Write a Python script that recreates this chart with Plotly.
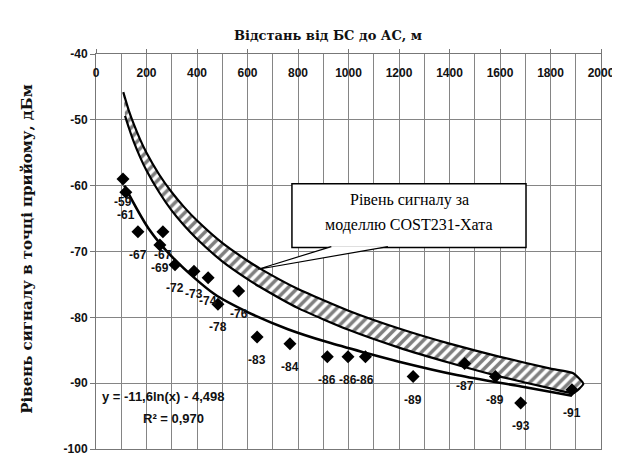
import plotly.graph_objects as go

# Measured points (distance m, level dBm)
dist = [107, 118, 166, 253, 265, 313, 388, 444, 483, 565, 638, 768, 916, 998, 1067, 1256, 1460, 1582, 1682, 1885]
level = [-59, -61, -67, -69, -67, -72, -73, -74, -78, -76, -83, -84, -86, -86, -86, -89, -87, -89, -93, -91]

# Logarithmic trend line
trend_x = [112, 208, 311, 470, 600, 760, 919, 1068, 1196, 1434, 1684, 1885]
trend_y = [-60.0, -66.5, -71.2, -76.5, -79.2, -81.8, -83.8, -85.4, -86.7, -88.8, -90.5, -91.9]

# COST231-Hata band edges
band_x = [115, 130, 150, 175, 200, 250, 300, 350, 400, 500, 600, 650, 800, 1000, 1200, 1400, 1600, 1800, 1890]
band_upper = [-46.7, -48.6, -50.7, -53.0, -55.0, -58.3, -61.0, -63.3, -65.3, -68.7, -71.4, -72.6, -75.7, -79.0, -81.7, -84.0, -86.0, -87.8, -88.5]
band_lower = [-49.4, -51.2, -53.4, -55.7, -57.7, -61.0, -63.8, -66.1, -68.1, -71.5, -74.2, -75.4, -78.6, -81.9, -84.6, -86.9, -89.0, -90.8, -91.5]
band_cap_left = (108, -45.8)
band_cap_right = (1930, -90.1)

x_ticks = list(range(0, 2001, 200))
y_ticks = list(range(-100, -39, 10))

title_text = "Відстань від БС до АС, м"
ytitle_text = "Рівень сигналу в точці прийому, дБм"
callout_lines = ["Рівень сигналу за", "моделлю COST231-Хата"]
eq_text = "y = -11,6ln(x) - 4,498"
r2_text = "R² = 0,970"

fig = go.Figure()

poly_x = [band_cap_left[0]] + band_x + [band_cap_right[0]] + band_x[::-1]
poly_y = [band_cap_left[1]] + band_upper + [band_cap_right[1]] + band_lower[::-1]
fig.add_trace(go.Scatter(
    x=poly_x, y=poly_y, mode="lines", fill="toself",
    line=dict(color="black", width=2.2, shape="spline", smoothing=0.5),
    fillpattern=dict(shape="/", fgcolor="black", bgcolor="white", size=7, solidity=0.5),
    fillcolor="white", hoverinfo="skip", showlegend=False,
))

fig.add_trace(go.Scatter(
    x=trend_x, y=trend_y, mode="lines",
    line=dict(color="black", width=2.6, shape="spline", smoothing=0.8),
    showlegend=False,
))

fig.add_trace(go.Scatter(
    x=dist, y=level, mode="markers",
    marker=dict(symbol="diamond", size=10, color="black"),
    showlegend=False,
))

lab_font = dict(family="Liberation Sans", size=12, color="#111", weight="bold")
for xv, yv in zip(dist, level):
    fig.add_annotation(x=xv, y=yv, text=str(yv), showarrow=False,
                       yshift=-23, font=lab_font)

# callout box
fig.add_shape(type="rect", xref="x", yref="y", x0=776, x1=1703, y0=-69.4, y1=-59.7,
              line=dict(color="black", width=1.5), fillcolor="white", layer="above")
fig.add_shape(type="path", xref="x", yref="y",
              path="M 932,-69.25 L 642,-72.7 L 1156,-69.25",
              line=dict(color="black", width=1.2), fillcolor="white", layer="above")
for txt, yy in zip(callout_lines, [-62.2, -66.0]):
    fig.add_annotation(x=1240, y=yy, text=txt, showarrow=False,
                       font=dict(family="Liberation Serif", size=16, color="black"))

fig.add_annotation(x=16, y=-92.1, text=eq_text, showarrow=False, xanchor="left",
                   font=dict(family="Liberation Sans", size=13, color="#111", weight="bold"))
fig.add_annotation(x=305, y=-95.4, text=r2_text, showarrow=False,
                   font=dict(family="Liberation Sans", size=13, color="#111", weight="bold"))

fig.add_annotation(xref="paper", yref="paper", x=0.459, y=1.072, text=title_text,
                   showarrow=False,
                   font=dict(family="DejaVu Serif", size=13, color="#111", weight="bold"))
fig.add_annotation(xref="paper", yref="paper", x=-0.16, y=0.505, text=ytitle_text,
                   showarrow=False, textangle=-90,
                   font=dict(family="DejaVu Serif", size=15, color="#111", weight="bold"))

grid_c = "#858585"
tick_font = dict(family="Liberation Sans", size=12, color="#111", weight="bold")
fig.update_xaxes(
    range=[0, 2000], side="top", tickvals=x_ticks, ticktext=[str(v) for v in x_ticks],
    ticklabelposition="inside", ticklabelstandoff=14, ticklabeloverflow="allow",
    ticks="outside", ticklen=4, tickcolor="#777",
    showgrid=True, gridcolor=grid_c, gridwidth=1,
    minor=dict(dtick=100, tick0=0, showgrid=True, gridcolor=grid_c, gridwidth=1),
    showline=True, linecolor="#777", linewidth=1, mirror=True,
    zeroline=False, tickfont=tick_font,
)
fig.update_yaxes(
    range=[-100, -40], tickvals=y_ticks, ticktext=[str(v) for v in y_ticks],
    ticks="outside", ticklen=5, tickcolor="#777", ticklabeloverflow="allow",
    showgrid=True, gridcolor=grid_c, gridwidth=1,
    showline=True, linecolor="#777", linewidth=1, mirror=True,
    zeroline=False, tickfont=tick_font,
)

fig.update_layout(
    width=620, height=455,
    margin=dict(l=88, r=27, t=46, b=7),
    paper_bgcolor="white", plot_bgcolor="white",
    showlegend=False,
)

fig.write_html("out.html")
